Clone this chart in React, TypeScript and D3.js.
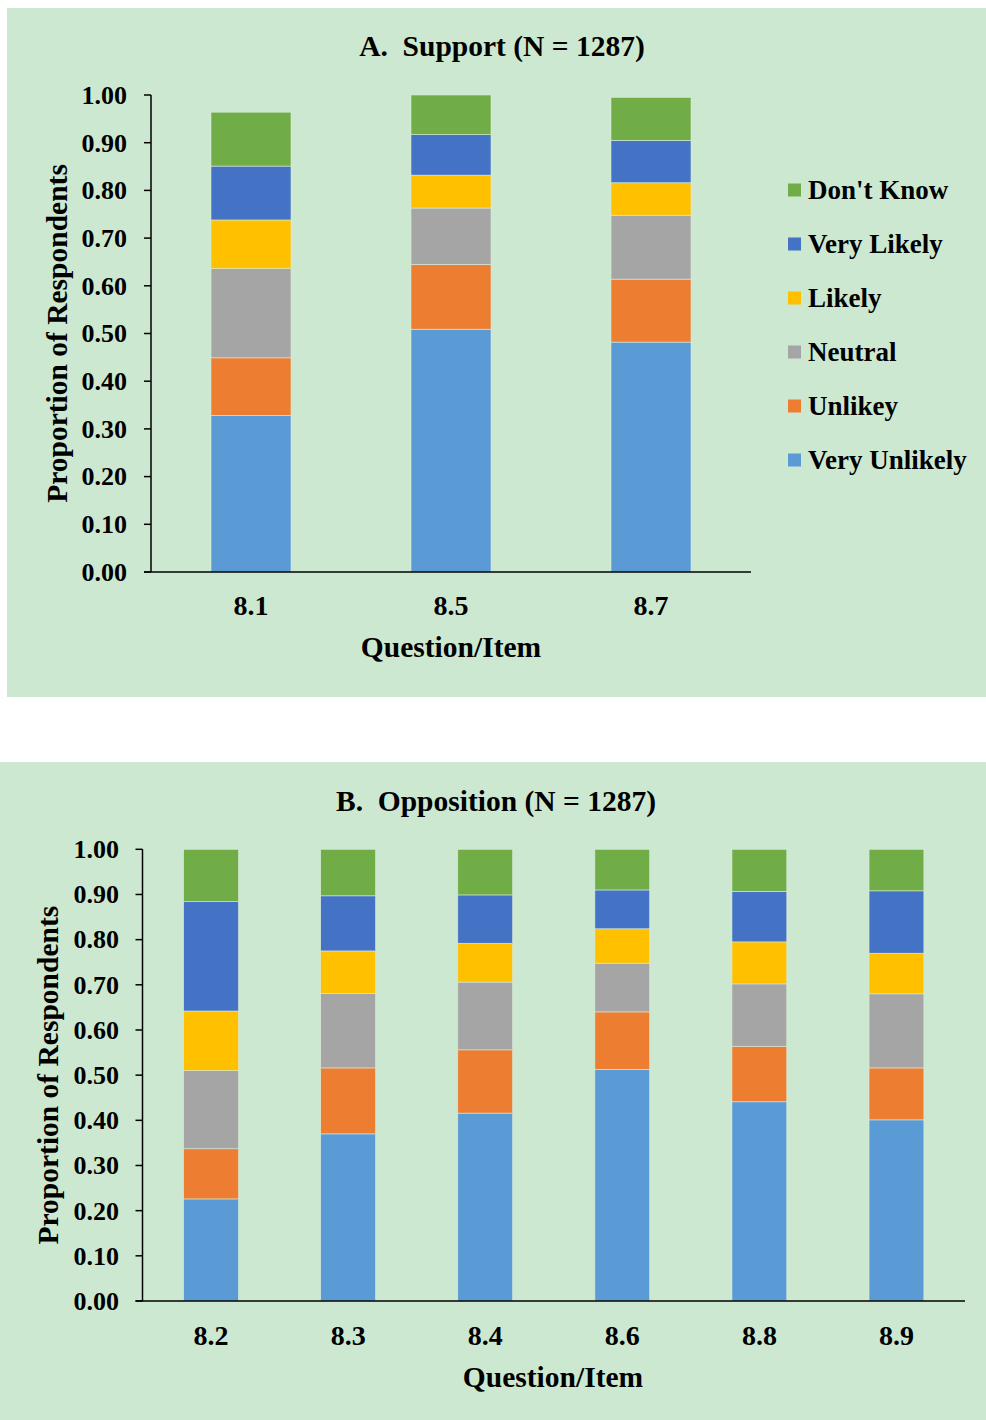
import React from 'react';
import * as d3 from 'd3';

// response categories, bottom of the stack first
const categories = ["Very Unlikely", "Unlikey", "Neutral", "Likely", "Very Likely", "Don't Know"];
const colors = ["#5B9BD5", "#ED7D31", "#A5A5A5", "#FFC000", "#4472C4", "#70AD47"];

const supportItems = ["8.1", "8.5", "8.7"];
const supportVeryUnlikely = [0.328, 0.509, 0.482];
const supportUnlikely = [0.121, 0.136, 0.132];
const supportNeutral = [0.187, 0.118, 0.134];
const supportLikely = [0.102, 0.069, 0.068];
const supportVeryLikely = [0.113, 0.085, 0.089];
const supportDontKnow = [0.113, 0.083, 0.090];

const oppositionItems = ["8.2", "8.3", "8.4", "8.6", "8.8", "8.9"];
const oppVeryUnlikely = [0.226, 0.370, 0.416, 0.513, 0.441, 0.401];
const oppUnlikely = [0.111, 0.146, 0.140, 0.127, 0.123, 0.115];
const oppNeutral = [0.173, 0.165, 0.150, 0.108, 0.138, 0.164];
const oppLikely = [0.132, 0.094, 0.086, 0.076, 0.093, 0.090];
const oppVeryLikely = [0.242, 0.122, 0.107, 0.086, 0.112, 0.138];
const oppDontKnow = [0.116, 0.103, 0.101, 0.090, 0.093, 0.092];

const yTicks = [0, 0.1, 0.2, 0.3, 0.4, 0.5, 0.6, 0.7, 0.8, 0.9, 1.0];

const FONT = "'Liberation Serif', 'Times New Roman', serif";

function buildRows(items: string[], series: number[][]) {
  return items.map((item, i) => {
    const row: any = { item };
    categories.forEach((c, k) => { row[c] = series[k][i]; });
    return row;
  });
}

type PanelProps = {
  bg: { x: number; y: number; w: number; h: number };
  title: string;
  titleX: number;
  titleY: number;
  items: string[];
  series: number[][];
  x0: number; x1: number;
  y0: number; y1: number;
  tickLabelX: number;
  yTitleX: number;
  itemLabelY: number;
  xTitleX: number;
  xTitleY: number;
  legend?: { x: number; y: number; step: number };
};

const Panel: React.FC<PanelProps> = (p) => {
  const rows = buildRows(p.items, p.series);
  const stacked = d3.stack<any>().keys(categories)(rows);
  const x = d3.scaleBand().domain(p.items).range([p.x0, p.x1]).paddingInner(0.6).paddingOuter(0.3);
  const y = d3.scaleLinear().domain([0, 1]).range([p.y0, p.y1]);

  return (
    <g>
      <rect x={p.bg.x} y={p.bg.y} width={p.bg.w} height={p.bg.h} fill="#CDE8D0" />
      <text x={p.titleX} y={p.titleY} textAnchor="middle" fontSize={29.5} fontWeight="bold"
        style={{ whiteSpace: 'pre' }}>{p.title}</text>

      {stacked.map((layer, k) => (
        <g key={layer.key} fill={colors[k]}>
          {layer.map((d: any, i: number) => (
            <rect key={i} x={x(p.items[i])} width={x.bandwidth()}
              y={y(d[1])} height={y(d[0]) - y(d[1])}
              stroke="#d8ecd9" strokeWidth={0.6} />
          ))}
        </g>
      ))}

      {/* y axis */}
      <line x1={p.x0} x2={p.x0} y1={y(0)} y2={y(1)} stroke="#000" strokeWidth={1.5} />
      {yTicks.map(t => (
        <g key={t}>
          <line x1={p.x0 - 7} x2={p.x0} y1={y(t)} y2={y(t)} stroke="#000" strokeWidth={1.5} />
          <text x={p.tickLabelX} y={y(t)} dy="0.34em" textAnchor="end" fontSize={26} fontWeight="bold">
            {d3.format(".2f")(t)}
          </text>
        </g>
      ))}
      {/* x axis */}
      <line x1={p.x0 - 7} x2={p.x1} y1={y(0)} y2={y(0)} stroke="#000" strokeWidth={1.5} />
      {p.items.map(it => (
        <text key={it} x={(x(it) as number) + x.bandwidth() / 2} y={p.itemLabelY}
          textAnchor="middle" fontSize={28} fontWeight="bold">{it}</text>
      ))}
      <text x={p.xTitleX} y={p.xTitleY} textAnchor="middle" fontSize={29.5} fontWeight="bold">Question/Item</text>
      <text transform={`translate(${p.yTitleX},${(y(0) + y(1)) / 2}) rotate(-90)`} textAnchor="middle"
        fontSize={29.5} fontWeight="bold">Proportion of Respondents</text>

      {p.legend && categories.slice().reverse().map((c, j) => {
        const k = categories.length - 1 - j;
        const cy = p.legend!.y + j * p.legend!.step;
        return (
          <g key={c}>
            <rect x={p.legend!.x} y={cy - 6.5} width={13} height={13} fill={colors[k]} />
            <text x={p.legend!.x + 20} y={cy + 8.5} fontSize={27} fontWeight="bold">{c}</text>
          </g>
        );
      })}
    </g>
  );
};

export default function App() {
  return (
    <>
      <style>{`body{margin:0}`}</style>
      <svg width={986} height={1420} style={{ display: 'block', fontFamily: FONT }}>
        <rect width={986} height={1420} fill="#fff" />
        <Panel
          bg={{ x: 7, y: 8, w: 979, h: 689 }}
          title="A.  Support (N = 1287)" titleX={502} titleY={56}
          items={supportItems}
          series={[supportVeryUnlikely, supportUnlikely, supportNeutral, supportLikely, supportVeryLikely, supportDontKnow]}
          x0={151} x1={751} y0={572} y1={95}
          tickLabelX={127} yTitleX={67}
          itemLabelY={615} xTitleX={451} xTitleY={657}
          legend={{ x: 788, y: 190, step: 54 }}
        />
        <Panel
          bg={{ x: 0, y: 762, w: 986, h: 658 }}
          title="B.  Opposition (N = 1287)" titleX={496} titleY={811}
          items={oppositionItems}
          series={[oppVeryUnlikely, oppUnlikely, oppNeutral, oppLikely, oppVeryLikely, oppDontKnow]}
          x0={142.5} x1={965} y0={1301} y1={849.3}
          tickLabelX={119} yTitleX={58}
          itemLabelY={1345} xTitleX={553} xTitleY={1387}
        />
      </svg>
    </>
  );
}
